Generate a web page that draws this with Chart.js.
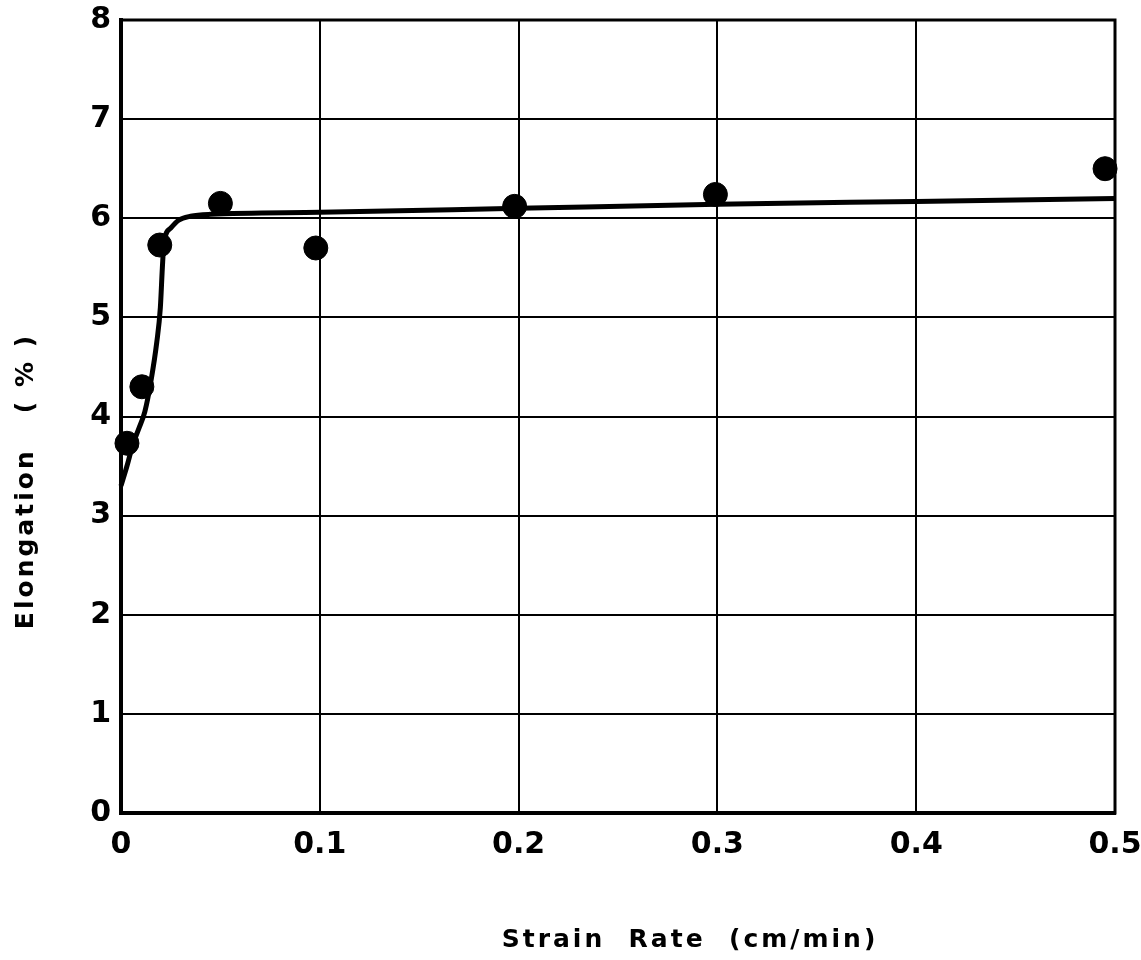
<!DOCTYPE html>
<html>
<head>
<meta charset="utf-8">
<script src="https://cdn.jsdelivr.net/npm/chart.js@4/dist/chart.umd.min.js"></script>
<style>
  html, body { margin: 0; padding: 0; background: #fff; }
  #wrap { width: 1141px; height: 960px; }
</style>
</head>
<body>
<div id="wrap"><canvas id="elong-chart"></canvas></div>
<script>
// measured points
const strainRate = [0.003, 0.0105, 0.0195, 0.05, 0.098, 0.198, 0.299, 0.495];
const elongation = [3.73, 4.3, 5.73, 6.15, 5.7, 6.12, 6.24, 6.5];

// hand-drawn fit curve
const fitX = [0, 0.003, 0.006, 0.009, 0.012, 0.015, 0.018, 0.0198, 0.0208, 0.0216, 0.025, 0.029, 0.035, 0.045, 0.1, 0.2, 0.3, 0.4, 0.5];
const fitY = [3.3, 3.5, 3.72, 3.88, 4.05, 4.35, 4.75, 5.1, 5.5, 5.75, 5.9, 5.98, 6.02, 6.04, 6.06, 6.1, 6.14, 6.17, 6.2];

const xTicks = [0, 0.1, 0.2, 0.3, 0.4, 0.5];
const yTicks = [0, 1, 2, 3, 4, 5, 6, 7, 8];

const tickFont = { family: 'DejaVu Sans', size: 30, weight: 'bold' };

// titles sit off-centre in the original, so draw them by hand
const axisTitles = {
  id: 'axisTitles',
  afterDraw(chart) {
    const c = chart.ctx;
    const a = chart.chartArea;
    c.save();
    c.strokeStyle = '#000';
    c.lineWidth = 3;
    c.strokeRect(a.left, a.top, a.right - a.left, a.bottom - a.top);
    c.fillStyle = '#000';
    c.font = 'bold 25px "DejaVu Sans"';
    c.letterSpacing = '3px';
    c.textAlign = 'center';
    c.textBaseline = 'middle';
    c.fillText('Strain  Rate  (cm/min)', 690, 940);
    c.translate(26, 481);
    c.rotate(-Math.PI / 2);
    c.fillText('Elongation   ( % )', 0, 0);
    c.restore();
  }
};

const data = {
  datasets: [
    {
      label: 'fit',
      data: fitX.map((x, i) => ({ x: x, y: fitY[i] })),
      showLine: true,
      borderColor: '#000',
      borderWidth: 5,
      pointRadius: 0,
      cubicInterpolationMode: 'monotone',
      order: 2
    },
    {
      label: 'measured',
      data: strainRate.map((x, i) => ({ x: x, y: elongation[i] })),
      showLine: false,
      pointRadius: 12,
      pointBackgroundColor: '#000',
      pointBorderColor: '#000',
      order: 1
    }
  ]
};

const config = {
  type: 'scatter',
  data: data,
  options: {
    responsive: false,
    animation: false,
    clip: false,
    layout: { padding: { top: 20, right: 26, left: 0, bottom: 0 } },
    scales: {
      x: {
        type: 'linear',
        min: 0,
        max: 0.5,
        afterBuildTicks: (s) => { s.ticks = xTicks.map(v => ({ value: v })); },
        afterFit: (s) => { s.height = 147; s.paddingLeft = 0; s.paddingRight = 0; },
        grid: { color: '#000', lineWidth: 2, drawTicks: false },
        border: { color: '#000', width: 4 },
        ticks: {
          color: '#000',
          font: tickFont,
          padding: 14,
          maxRotation: 0,
          callback: (v) => (v === 0 ? '0' : v.toFixed(1))
        }
      },
      y: {
        min: 0,
        max: 8,
        afterBuildTicks: (s) => { s.ticks = yTicks.map(v => ({ value: v })); },
        afterFit: (s) => { s.width = 121; s.paddingTop = 0; s.paddingBottom = 0; },
        grid: { color: '#000', lineWidth: 2, drawTicks: false },
        border: { color: '#000', width: 4 },
        ticks: { color: '#000', font: tickFont, padding: 10 }
      }
    },
    plugins: {
      legend: false,
      tooltip: { enabled: false }
    }
  },
  plugins: [axisTitles]
};

const cv = document.getElementById('elong-chart');
cv.width = 1141;
cv.height = 960;
new Chart(cv, config);
</script>
</body>
</html>
